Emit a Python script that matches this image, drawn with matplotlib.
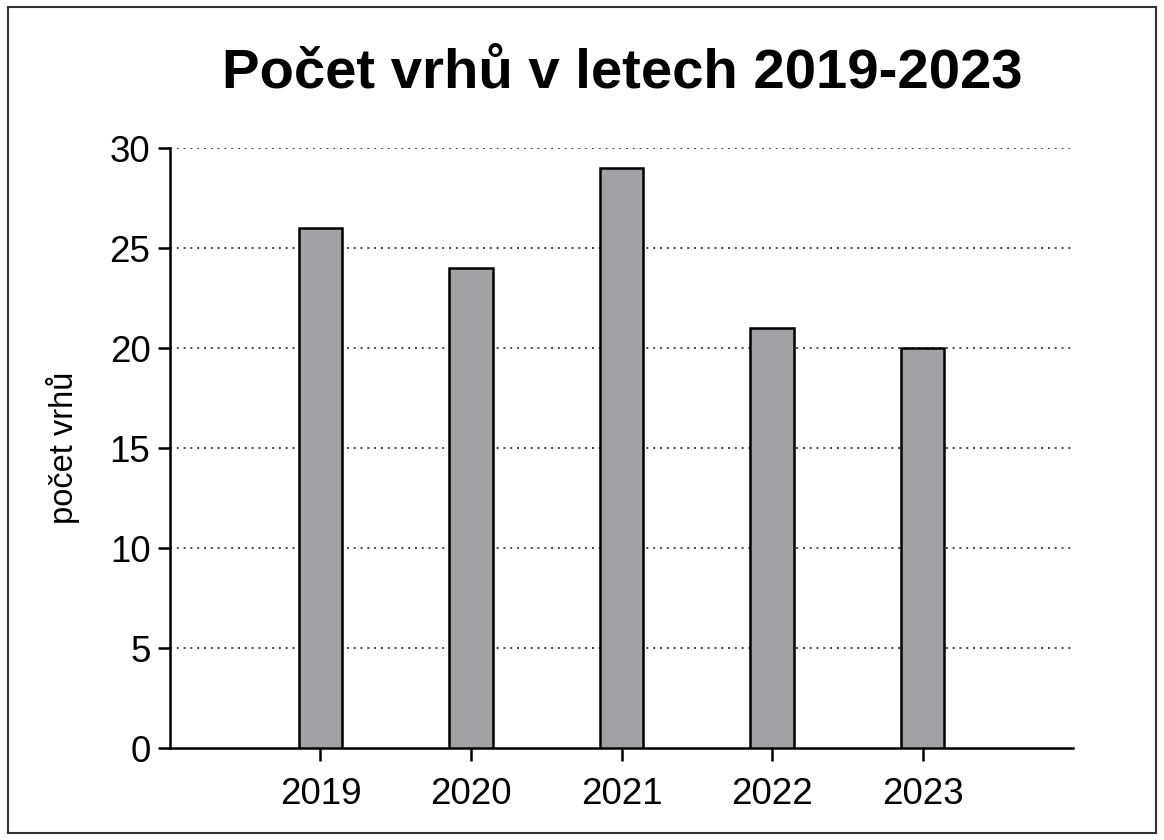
import matplotlib.pyplot as plt
from matplotlib.patches import Rectangle

plt.rcParams['font.family'] = ['Liberation Sans', 'DejaVu Sans']

years = ['2019', '2020', '2021', '2022', '2023']
litters = [26, 24, 29, 21, 20]

fig = plt.figure(figsize=(11.64, 8.4), dpi=100)
ax = fig.add_axes([0.146, 0.1095, 0.776, 0.7143])

pos = list(range(len(years)))
ax.bar(pos, litters, width=0.29, color='#a2a1a5', edgecolor='black', linewidth=1.8, zorder=3)

ax.set_xlim(-1, 5)
ax.set_ylim(0, 30)
ax.set_yticks([0, 5, 10, 15, 20, 25, 30])
ax.set_xticks(pos)
ax.set_xticklabels(years)

for y in [5, 10, 15, 20, 25, 30]:
    ax.axhline(y, color='#444444', linestyle=(0, (1, 2.5)), linewidth=1.4, zorder=1)

for s in ['top', 'right']:
    ax.spines[s].set_visible(False)
for s in ['left', 'bottom']:
    ax.spines[s].set_linewidth(1.8)

ax.tick_params(axis='both', labelsize=26.5, length=9, width=1.8, pad=5)
ax.tick_params(axis='x', pad=12)
ax.set_ylabel('počet vrhů', fontsize=23.5, labelpad=21)

fig.text(0.535, 0.913, 'Počet vrhů v letech 2019-2023', ha='center', va='center',
         fontsize=40.5, fontweight='bold')

fig.patches.append(Rectangle((0.007, 0.008), 0.986, 0.984, transform=fig.transFigure,
                             fill=False, edgecolor='#333333', linewidth=1.5))

fig.savefig('out.png', dpi=100)
